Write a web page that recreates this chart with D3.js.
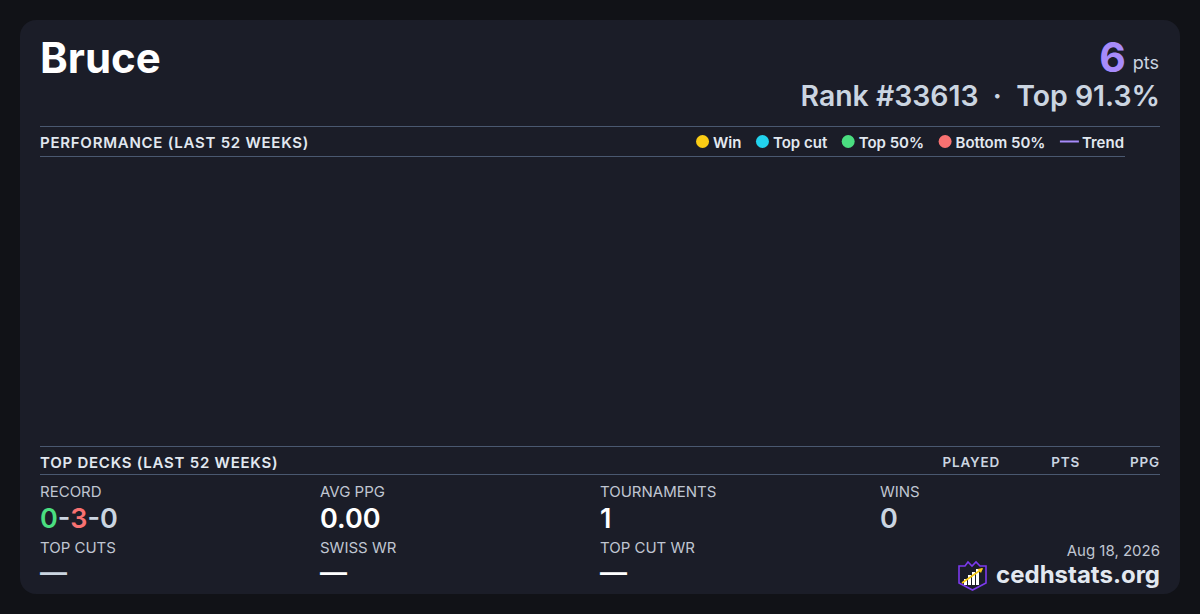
<!DOCTYPE html>
<html><head><meta charset="utf-8">
<script src="https://cdn.jsdelivr.net/npm/d3@7"></script>
<style>
html,body{margin:0;padding:0;background:#111217;}
svg{display:block;font-family:Inter,"Noto Sans",sans-serif;}
</style></head><body>
<svg id="c" width="1200" height="614"></svg>
<script>
// ---- data ----
const playerName = "Bruce";
const points = 6;
const rank = 33613;
const topPct = "91.3%";
const legendLabels = ["Win", "Top cut", "Top 50%", "Bottom 50%", "Trend"];
const legendColors = ["#facc15", "#22d3ee", "#4ade80", "#f87171", "#a78bfa"];
const weeklyResults = []; // no results plotted in the last 52 weeks
const deckColumns = ["PLAYED", "PTS", "PPG"];
const topDecks = [];
const statLabels = ["RECORD", "AVG PPG", "TOURNAMENTS", "WINS", "TOP CUTS", "SWISS WR", "TOP CUT WR"];
const statValues = ["0-3-0", "0.00", "1", "0", "—", "—", "—"];
const recordParts = [0, 3, 0];
const recordColors = ["#4ade80", "#f87171", "#cbd5e1"];
const dateLabel = "Aug 18, 2026";
const siteLabel = "cedhstats.org";

// ---- drawing ----
const svg = d3.select("#c");
svg.append("rect").attr("x",20).attr("y",20).attr("width",1160).attr("height",574)
  .attr("rx",16).attr("fill","#1b1d28");

svg.append("text").attr("x",40).attr("y",73).text(playerName)
  .attr("fill","#ffffff").attr("font-size",42).attr("font-weight",700);

svg.append("text").attr("x",1159).attr("y",69).attr("text-anchor","end").text("pts")
  .attr("fill","#cbd5e1").attr("font-size",18).attr("font-weight",400);
svg.append("text").attr("x",1126).attr("y",72).attr("text-anchor","end").text(points)
  .attr("fill","#a78bfa").attr("font-size",41).attr("font-weight",700);

svg.append("text").attr("x",1160).attr("y",106).attr("text-anchor","end")
  .attr("fill","#cbd5e1").attr("font-size",28.4).attr("font-weight",600)
  .text(`Rank #${rank}  ·  Top ${topPct}`).style("white-space","pre");

const lineCol = "#4a5870";
function hline(y,x1,x2){svg.append("line").attr("x1",x1).attr("x2",x2).attr("y1",y).attr("y2",y).attr("stroke",lineCol).attr("stroke-width",1);}
hline(126.5,40,1160);
hline(156.5,40,1125);
svg.append("text").attr("x",40).attr("y",147.5).text("PERFORMANCE (LAST 52 WEEKS)")
  .attr("fill","#e2e8f0").attr("font-size",15).attr("font-weight",600).attr("letter-spacing",0.75);

// legend laid out right-to-left ending at 1124
const legend = svg.append("g");
let lx = 1124;
const LF = 15;
const items = legendLabels.map((l,i)=>({l,c:legendColors[i],line:i===legendLabels.length-1}));
const tmp = svg.append("text").attr("font-size",LF).attr("font-weight",600);
for (let i = items.length-1; i>=0; i--) {
  const it = items[i];
  tmp.text(it.l);
  const w = tmp.node().getComputedTextLength();
  const tx = lx - w;
  legend.append("text").attr("x",tx).attr("y",147.5).text(it.l)
    .attr("fill","#e2e8f0").attr("font-size",LF).attr("font-weight",600);
  if (it.line) {
    legend.append("line").attr("x1",tx-22).attr("x2",tx-3).attr("y1",141.5).attr("y2",141.5)
      .attr("stroke",it.c).attr("stroke-width",2);
    lx = tx - 22 - 14.5;
  } else {
    legend.append("circle").attr("cx",tx-10.5).attr("cy",141.5).attr("r",6.5).attr("fill",it.c);
    lx = tx - 17 - 14.5;
  }
}
tmp.remove();

// empty chart area with scales
const x = d3.scaleLinear().domain([0,52]).range([40,1160]);
const y = d3.scaleLinear().domain([0,1]).range([440,165]);
svg.append("g").selectAll("circle").data(weeklyResults).join("circle")
  .attr("cx",d=>x(d.week)).attr("cy",d=>y(d.value)).attr("r",4)
  .attr("fill",d=>legendColors[d.type]);

// top decks
hline(446.5,40,1160);
hline(474.5,40,1160);
svg.append("text").attr("x",40).attr("y",468).text("TOP DECKS (LAST 52 WEEKS)")
  .attr("fill","#e2e8f0").attr("font-size",15).attr("font-weight",600).attr("letter-spacing",0.75);
const colX = d3.scaleOrdinal().domain(deckColumns).range([1000,1080,1160]);
svg.append("g").selectAll("text").data(deckColumns).join("text")
  .attr("x",d=>colX(d)).attr("y",467).attr("text-anchor","end").text(d=>d)
  .attr("fill","#cbd5e1").attr("font-size",13.5).attr("font-weight",600).attr("letter-spacing",0.8);

// stats grid
const sx = d3.scalePoint().domain([0,1,2,3]).range([40,880]);
statLabels.forEach((lab,i)=>{
  const col = i%4, row = Math.floor(i/4);
  const gx = sx(col);
  svg.append("text").attr("x",gx).attr("y",row===0?497:553).text(lab)
    .attr("fill","#c0c6d2").attr("font-size",15).attr("font-weight",400);
  const vy = row===0?528:582;
  if (i===0) {
    const t = svg.append("text").attr("x",gx).attr("y",vy).attr("font-size",27).attr("font-weight",600);
    recordParts.forEach((p,k)=>{
      if (k>0) t.append("tspan").text("-").attr("fill","#cbd5e1");
      t.append("tspan").text(p).attr("fill",recordColors[k]);
    });
  } else {
    const col2 = (i===3||i===4) ? "#cbd5e1" : "#ffffff";
    svg.append("text").attr("x",gx).attr("y",vy).text(statValues[i])
      .attr("fill",col2).attr("font-size",27).attr("font-weight",600);
  }
});

svg.append("text").attr("x",1160).attr("y",556).attr("text-anchor","end").text(dateLabel)
  .attr("fill","#c0c6d2").attr("font-size",15);
svg.append("text").attr("x",1160).attr("y",583).attr("text-anchor","end").text(siteLabel)
  .attr("fill","#e2e8f0").attr("font-size",24).attr("font-weight",700);

// logo
const lg = svg.append("g").attr("transform","translate(958,561)");
lg.append("path").attr("d","M1,5 L7,5 L10,1 L14,5 L18,1 L22,5 L28,5 L28,22 L14.5,29 L1,22 Z")
  .attr("fill","#1b1d28").attr("stroke","#7c3aed").attr("stroke-width",1.6);
const bars=[[6,18,3],[10,14,3],[14,11,3],[18,8,3]];
bars.forEach(b=>lg.append("rect").attr("x",b[0]).attr("y",b[1]).attr("width",b[2]).attr("height",24-b[1]).attr("fill","#ffffff"));
lg.append("line").attr("x1",4).attr("y1",22).attr("x2",24).attr("y2",8).attr("stroke","#facc15").attr("stroke-width",1.6);
lg.append("path").attr("d","M25,7 L19.5,8 L23,12 Z").attr("fill","#facc15");
</script>
</body></html>
